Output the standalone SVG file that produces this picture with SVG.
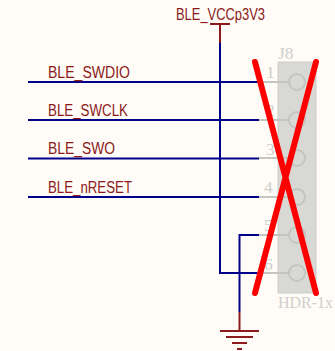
<svg xmlns="http://www.w3.org/2000/svg" width="335" height="351" viewBox="0 0 335 351">
<style>
.net{font:16px "Liberation Sans",Arial,sans-serif;fill:#8b1a1a}
.gt{font:17.500px "Liberation Serif","Times New Roman",serif;fill:#cfcfcc}
.gs{font:16px "Liberation Serif","Times New Roman",serif;fill:#cfcfcc}
.w{fill:none;stroke:#00008b;stroke-width:2}
.p{fill:none;stroke:#8b1a1a;stroke-width:2}
.g{fill:none;stroke:#c4c4c1;stroke-width:2}
.x{fill:none;stroke:#ff0000;stroke-width:6;stroke-linecap:round}
</style>
<rect width="335" height="351" fill="#fffcf7"/>
<g id="J8">
<rect x="278" y="62" width="38" height="231" fill="#d8d8d5" stroke="#cbcbc8" stroke-width="1"/>
<text class="gt" x="278" y="59">J8</text>
<text class="gs" x="278" y="308">HDR-1x</text>
<g class="g">
<path d="M259 82H289M259 120H289M259 158H289M259 197H289M259 235H289M259 273H289"/>
<circle cx="297" cy="82" r="8"/><circle cx="297" cy="120" r="8"/><circle cx="297" cy="158" r="8"/><circle cx="297" cy="197" r="8"/><circle cx="297" cy="235" r="8"/><circle cx="297" cy="273" r="8"/>
</g>
<text class="gt" x="266" y="78">1</text>
<text class="gt" x="266" y="116">2</text>
<text class="gt" x="266" y="155">3</text>
<text class="gt" x="264" y="193">4</text>
<text class="gt" x="264" y="231">5</text>
<text class="gt" x="264" y="270">6</text>
</g>
<g id="connectors">
<path class="w" d="M28 82H259M28 120H259M28 158.500H259M28 197H259"/>
<path class="w" d="M220 43V273H259"/>
<path class="w" d="M259 235H239.500V312"/>
</g>
<g id="BLE_VCCp3V3">
<path class="p" d="M220 43V24M210 24H230"/>
<text class="net" x="176" y="20" textLength="89" lengthAdjust="spacingAndGlyphs">BLE_VCCp3V3</text>
</g>
<g id="GND">
<path class="p" d="M239.500 312V331M220 331H259M226 337H253M232 343H247M237 349H242"/>
</g>
<g id="labels">
<text class="net" x="48" y="78" textLength="82" lengthAdjust="spacingAndGlyphs">BLE_SWDIO</text>
<text class="net" x="48" y="116" textLength="80" lengthAdjust="spacingAndGlyphs">BLE_SWCLK</text>
<text class="net" x="48" y="154" textLength="67" lengthAdjust="spacingAndGlyphs">BLE_SWO</text>
<text class="net" x="48" y="193" textLength="84" lengthAdjust="spacingAndGlyphs">BLE_nRESET</text>
</g>
<g id="cross">
<path class="x" d="M255 62L316 293M316 62L255 293"/>
</g>
</svg>
